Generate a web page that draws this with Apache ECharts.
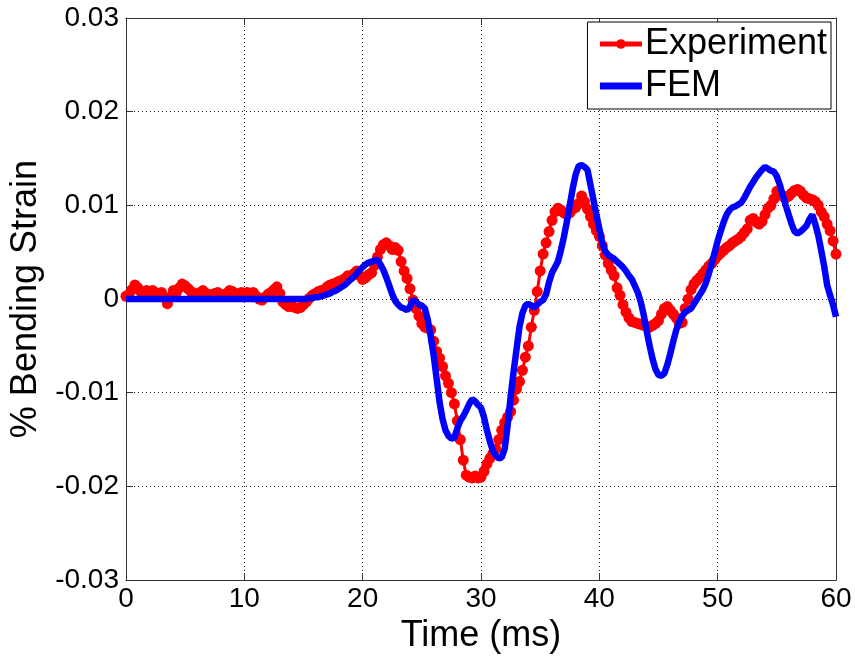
<!DOCTYPE html>
<html>
<head>
<meta charset="utf-8">
<script src="https://cdn.jsdelivr.net/npm/echarts@6/dist/echarts.min.js"></script>
<style>
  html, body { margin: 0; padding: 0; background: #fff; }
  #chart { width: 855px; height: 659px; }
</style>
</head>
<body>
<div id="chart"></div>
<script>
// time step of both traces (ms)
var timeStep = 0.25;

// measured bending strain (%), one row per ms
var experiment = [
  0.0003, 0.0005, 0.0010, 0.0015,
  0.0012, 0.0008, 0.0006, 0.0009,
  0.0008, 0.0009, 0.0007, 0.0006,
  0.0007, 0.0002, -0.0005, 0.0002,
  0.0009, 0.0007, 0.0012, 0.0016,
  0.0014, 0.0011, 0.0008, 0.0006,
  0.0005, 0.0007, 0.0009, 0.0006,
  0.0005, 0.0004, 0.0006, 0.0007,
  0.0005, 0.0003, 0.0006, 0.0009,
  0.0008, 0.0006, 0.0005, 0.0007,
  0.0006, 0.0007, 0.0005, 0.0007,   // 10
  0.0003, 0.0000, -0.0001, 0.0002,
  0.0005, 0.0007, 0.0010, 0.0013,
  0.0006, -0.0003, -0.0006, -0.0008,
  -0.0007, -0.0009, -0.0010, -0.0009,
  -0.0006, -0.0003, 0.0001, 0.0004,
  0.0006, 0.0008, 0.0009, 0.0010,
  0.0013, 0.0015, 0.0016, 0.0017,
  0.0019, 0.0020, 0.0022, 0.0025,
  0.0024, 0.0027, 0.0030, 0.0025,
  0.0021, 0.0023, 0.0026, 0.0028,   // 20
  0.0036, 0.0045, 0.0053, 0.0058,
  0.0060, 0.0057, 0.0053, 0.0055,
  0.0052, 0.0040, 0.0030, 0.0022,
  0.0011, -0.0001, -0.0010, -0.0018,
  -0.0026, -0.0030, -0.0031, -0.0033,
  -0.0045, -0.0056, -0.0063, -0.0072,
  -0.0082, -0.0090, -0.0100, -0.0112,
  -0.0130, -0.0150, -0.0172, -0.0188,
  -0.0190, -0.0191, -0.0189, -0.0191,
  -0.0190, -0.0184, -0.0176, -0.0170,   // 30
  -0.0165, -0.0160, -0.0150, -0.0140,
  -0.0132, -0.0126, -0.0120, -0.0108,
  -0.0096, -0.0088, -0.0076, -0.0062,
  -0.0050, -0.0030, -0.0012, 0.0008,
  0.0030, 0.0048, 0.0060, 0.0072,
  0.0084, 0.0093, 0.0097, 0.0095,
  0.0092, 0.0090, 0.0092, 0.0096,
  0.0098, 0.0102, 0.0110, 0.0104,
  0.0096, 0.0088, 0.0080, 0.0073,
  0.0067, 0.0057, 0.0047, 0.0038,   // 40
  0.0031, 0.0025, 0.0012, 0.0004,
  -0.0006, -0.0014, -0.0020, -0.0024,
  -0.0025, -0.0026, -0.0027, -0.0028,
  -0.0029, -0.0030, -0.0028, -0.0026,
  -0.0023, -0.0016, -0.0010, -0.0008,
  -0.0012, -0.0016, -0.0020, -0.0026,
  -0.0025, -0.0010, 0.0000, 0.0010,
  0.0016, 0.0020, 0.0023, 0.0027,
  0.0031, 0.0035, 0.0038, 0.0042,
  0.0046, 0.0049, 0.0052, 0.0055,   // 50
  0.0057, 0.0060, 0.0062, 0.0064,
  0.0067, 0.0071, 0.0075, 0.0084,
  0.0086, 0.0082, 0.0080, 0.0083,
  0.0090, 0.0097, 0.0100, 0.0107,
  0.0115, 0.0113, 0.0110, 0.0108,
  0.0110, 0.0113, 0.0116, 0.0117,
  0.0115, 0.0111, 0.0108, 0.0107,
  0.0106, 0.0104, 0.0100, 0.0093,
  0.0088, 0.0080, 0.0073, 0.0062,
  0.0048                            // 60
];

// finite element prediction (%), one row per ms
var fem = [
  0, 0, 0, 0,
  0, 0, 0, 0,
  0, 0, 0, 0,
  0, 0, 0, 0,
  0, 0, 0, 0,
  0, 0, 0, 0,
  0, 0, 0, 0,
  0, 0, 0, 0,
  0, 0, 0, 0,
  0, 0, 0, 0,
  0, 0, 0, 0,                       // 10
  0, 0, 0, 0,
  0, 0, 0, 0,
  0, 0, 0, 0,
  0, 0, 0, 0,
  0, 0, 0.0001, 0.0001,
  0.0002, 0.0002, 0.0003, 0.0004,
  0.0005, 0.0006, 0.0008, 0.0009,
  0.0011, 0.0013, 0.0015, 0.0018,
  0.0021, 0.0024, 0.0027, 0.0031,
  0.0034, 0.0037, 0.0039, 0.0040,   // 20
  0.0041, 0.0042, 0.0037, 0.0031,
  0.0023, 0.0014, 0.0005, -0.0002,
  -0.0006, -0.0009, -0.0010, -0.0012,
  -0.0008, -0.0001, -0.0003, -0.0006,
  -0.0007, -0.0010, -0.0022, -0.0040,
  -0.0060, -0.0085, -0.0110, -0.0128,
  -0.0140, -0.0146, -0.0149, -0.0148,
  -0.0138, -0.0130, -0.0125, -0.0119,
  -0.0112, -0.0107, -0.0109, -0.0113,
  -0.0116, -0.0126, -0.0140, -0.0152, // 30
  -0.0162, -0.0167, -0.0170, -0.0169,
  -0.0160, -0.0135, -0.0105, -0.0078,
  -0.0054, -0.0030, -0.0015, -0.0007,
  -0.0005, -0.0007, -0.0009, -0.0006,
  -0.0003, -0.0001, 0.0005, 0.0018,
  0.0028, 0.0034, 0.0040, 0.0052,
  0.0066, 0.0082, 0.0100, 0.0118,
  0.0133, 0.0142, 0.0143, 0.0141,
  0.0138, 0.0122, 0.0106, 0.0090,
  0.0075, 0.0060, 0.0051, 0.0047,   // 40
  0.0045, 0.0043, 0.0040, 0.0037,
  0.0034, 0.0030, 0.0025, 0.0021,
  0.0014, 0.0007, -0.0003, -0.0017,
  -0.0034, -0.0050, -0.0064, -0.0075,
  -0.0081, -0.0082, -0.0079, -0.0070,
  -0.0058, -0.0045, -0.0033, -0.0024,
  -0.0018, -0.0014, -0.0012, -0.0010,
  -0.0005, 0.0000, 0.0005, 0.0010,
  0.0017, 0.0027, 0.0038, 0.0050,
  0.0062, 0.0072, 0.0082, 0.0090,   // 50
  0.0095, 0.0098, 0.0099, 0.0101,
  0.0103, 0.0108, 0.0114, 0.0120,
  0.0125, 0.0130, 0.0134, 0.0138,
  0.0141, 0.0139, 0.0137, 0.0136,
  0.0131, 0.0122, 0.0111, 0.0100,
  0.0090, 0.0080, 0.0072, 0.0070,
  0.0072, 0.0075, 0.0078, 0.0085,
  0.0090, 0.0080, 0.0068, 0.0052,
  0.0035, 0.0015, 0.0004, -0.0006,
  -0.0019                           // 60
];

var xTicks = [0, 10, 20, 30, 40, 50, 60];
var yTicks = [-0.03, -0.02, -0.01, 0, 0.01, 0.02, 0.03];

function withTime(arr) {
  return arr.map(function (v, i) { return [i * timeStep, v]; });
}

var font = '"Liberation Sans", Arial, sans-serif';
var boxColor = '#333';

var myChart = echarts.init(document.getElementById('chart'), null, { renderer: 'canvas' });

var gridLine = { show: true, lineStyle: { color: '#222', type: [1, 3], width: 1 } };

var option = {
  animation: false,
  backgroundColor: '#fff',
  grid: { left: 126, right: 19, top: 18, bottom: 72, containLabel: false },
  legend: {
    right: 24,
    top: 22,
    orient: 'vertical',
    backgroundColor: '#fff',
    borderColor: '#000',
    borderWidth: 1,
    borderRadius: 0,
    padding: [4, 4, 5, 10],
    itemGap: 6,
    itemWidth: 42,
    itemHeight: 12,
    textStyle: { fontFamily: font, fontSize: 36, color: '#000', padding: [0, 0, 0, -2] },
    data: [
      { name: 'Experiment', lineStyle: { width: 5 } },
      { name: 'FEM', icon: 'path://M0,0 H42 V7 H0 Z' }
    ]
  },
  xAxis: [{
    type: 'value',
    min: xTicks[0], max: xTicks[xTicks.length - 1], interval: 10,
    name: 'Time (ms)',
    nameLocation: 'middle',
    nameGap: 29,
    nameTextStyle: { fontFamily: font, fontSize: 36, color: '#000' },
    axisLine: { show: true, onZero: false, lineStyle: { color: boxColor, width: 1 } },
    axisTick: { show: true, inside: true, length: 7, lineStyle: { color: boxColor } },
    axisLabel: { fontFamily: font, fontSize: 28, color: '#000', margin: 5 },
    splitLine: gridLine
  }, {
    type: 'value', position: 'top',
    min: xTicks[0], max: xTicks[xTicks.length - 1], interval: 10,
    axisLine: { show: true, onZero: false, lineStyle: { color: boxColor, width: 1 } },
    axisTick: { show: true, inside: true, length: 7, lineStyle: { color: boxColor } },
    axisLabel: { show: false },
    splitLine: { show: false }
  }],
  yAxis: [{
    type: 'value',
    min: yTicks[0], max: yTicks[yTicks.length - 1], interval: 0.01,
    name: '% Bending Strain',
    nameLocation: 'middle',
    nameGap: 70,
    nameTextStyle: { fontFamily: font, fontSize: 36, color: '#000' },
    axisLine: { show: true, onZero: false, lineStyle: { color: boxColor, width: 1 } },
    axisTick: { show: true, inside: true, length: 7, lineStyle: { color: boxColor } },
    axisLabel: {
      fontFamily: font, fontSize: 28, color: '#000', margin: 7,
      formatter: function (v) { return Math.abs(v) < 1e-9 ? '0' : v.toFixed(2); }
    },
    splitLine: gridLine
  }, {
    type: 'value', position: 'right',
    min: yTicks[0], max: yTicks[yTicks.length - 1], interval: 0.01,
    axisLine: { show: true, onZero: false, lineStyle: { color: boxColor, width: 1 } },
    axisTick: { show: true, inside: true, length: 7, lineStyle: { color: boxColor } },
    axisLabel: { show: false },
    splitLine: { show: false }
  }],
  series: [{
    name: 'Experiment',
    type: 'line',
    data: withTime(experiment),
    symbol: 'circle',
    symbolSize: 11,
    showAllSymbol: true,
    color: '#ff0000',
    lineStyle: { color: '#ff0000', width: 3 },
    itemStyle: { color: '#ff0000' },
    z: 2
  }, {
    name: 'FEM',
    type: 'line',
    data: withTime(fem),
    symbol: 'none',
    color: '#0000ff',
    itemStyle: { color: '#0000ff' },
    lineStyle: { color: '#0000ff', width: 6.5 },
    z: 3
  }]
};

myChart.setOption(option);
</script>
</body>
</html>
